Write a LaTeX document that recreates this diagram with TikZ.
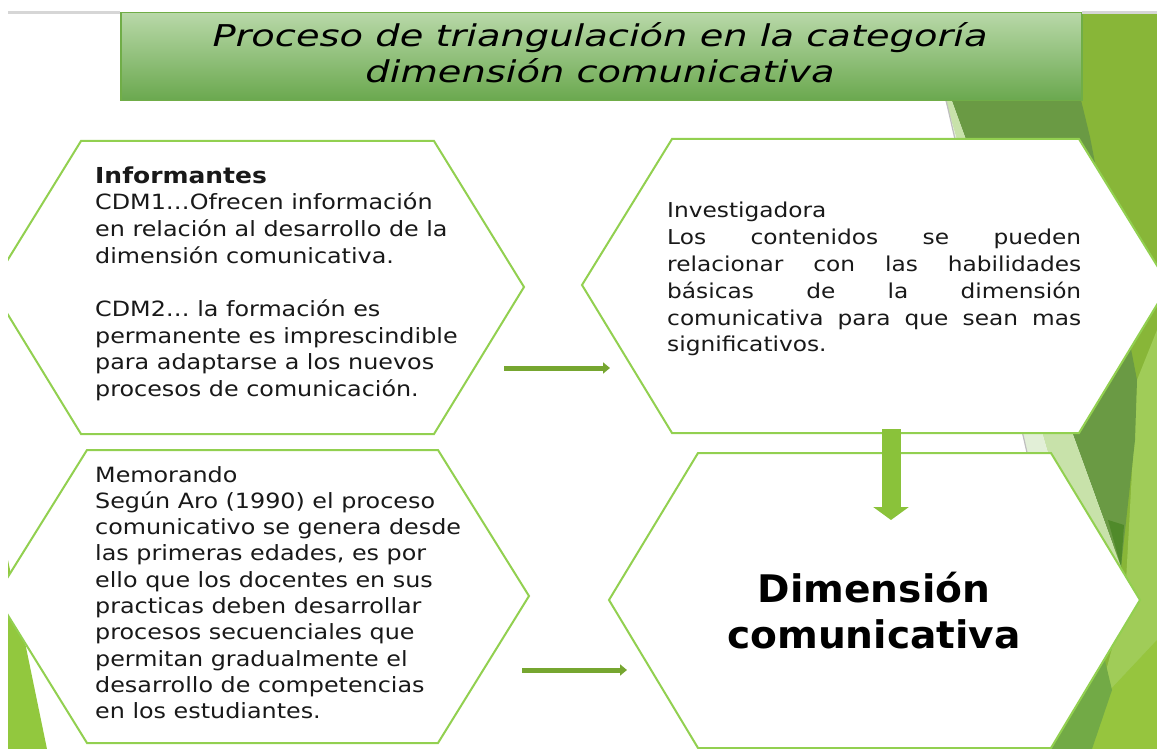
\documentclass[tikz,border=0pt]{standalone}
\usepackage{fontspec}
\setmainfont{DejaVu Sans}[FakeStretch=1.135]
\newfontfamily\titlefont{DejaVu Sans}[FakeStretch=1.28]
\newfontfamily\bigfont{DejaVu Sans}[FakeStretch=1.03]
\usetikzlibrary{arrows.meta}
\definecolor{hexline}{RGB}{146,208,80}
\definecolor{arrowgreen}{RGB}{118,166,48}
\definecolor{blockgreen}{RGB}{138,194,58}
\definecolor{titletop}{RGB}{184,216,168}
\definecolor{titlebot}{RGB}{106,168,78}
\definecolor{titleborder}{RGB}{112,173,71}
\definecolor{olivefacet}{RGB}{136,182,56}
\definecolor{darkfacet}{RGB}{106,154,68}
\definecolor{deepfacet}{RGB}{80,138,42}
\definecolor{palefacet}{RGB}{226,239,215}
\definecolor{lightfacet}{RGB}{200,226,170}
\definecolor{brightfacet}{RGB}{150,197,62}
\definecolor{softfacet}{RGB}{160,204,88}
\definecolor{midfacet}{RGB}{114,170,70}
\definecolor{cornerfacet}{RGB}{146,200,62}
\definecolor{textgray}{RGB}{25,25,25}
\definecolor{topline}{RGB}{214,214,214}
\definecolor{facetline}{RGB}{190,190,190}
\begin{document}
\begin{tikzpicture}[x=1pt,y=-1pt,
  hexagon/.style={fill=white, draw=hexline, line width=2pt, line join=miter},
  bodytext/.style={anchor=base west, inner sep=0pt, text=textgray},
  flowarrow/.style={draw=arrowgreen, line width=5pt, -{Triangle[length=7pt,width=11pt]}},
  downarrow/.style={draw=blockgreen, line width=19pt, -{Triangle[length=13pt,width=35pt]}},
  titlebox/.style={draw=titleborder, line width=1.5pt, top color=titletop, bottom color=titlebot,
     minimum width=961pt, minimum height=88pt, inner sep=0pt, anchor=north west}]
\useasboundingbox (0,0) rectangle (1157,749);
\fill[white] (0,0) rectangle (1157,749);
\begin{scope}
\clip (8,13) rectangle (1157,749);
% background facets
\fill[olivefacet] (1081,13) -- (1157,13) -- (1157,749) -- (1040,749) -- (1040,600) -- (1115,570) -- (1081,100) -- cycle;
\fill[softfacet] (1157,330) -- (1157,749) -- (1085,749) -- (1125,600) -- (1137,380) -- cycle;
\fill[brightfacet] (1157,640) -- (1157,749) -- (1088,749) -- (1110,690) -- cycle;
\fill[midfacet] (1100,640) -- (1112,690) -- (1092,749) -- (1045,749) -- cycle;
\fill[darkfacet] (920,13) -- (1081,13) -- (1081,100) -- (1090,137) -- (1137,380) -- (1135,440) -- (1121,567) -- cycle;
\fill[deepfacet] (1108,520) -- (1124,525) -- (1121,567) -- cycle;
\fill[lightfacet] (920,13) -- (1121,567) -- (1082,570) -- cycle;
\fill[palefacet] (920,13) -- (1082,570) -- (1054,570) -- (926,13) -- cycle;
\draw[facetline, line width=1.2pt] (926,13) -- (1054,570);
\fill[cornerfacet] (8,560) -- (47,749) -- (8,749) -- cycle;
% hexagons
\draw[hexagon] (-9,287) -- (81,141) -- (434,141) -- (524,287) -- (434,434) -- (81,434) -- cycle;
\draw[hexagon] (-4,596) -- (87,450) -- (438,450) -- (529,596) -- (438,743) -- (87,743) -- cycle;
\draw[hexagon] (582,285) -- (672,139) -- (1079,139) -- (1169,285) -- (1079,433) -- (672,433) -- cycle;
\draw[hexagon] (609,600) -- (698,453) -- (1051,453) -- (1140,600) -- (1051,748) -- (698,748) -- cycle;
% title
\node[titlebox] (title) at (120,12) {};
\end{scope}
\draw[topline, line width=3pt] (8,13) -- (120,13);
\draw[topline, line width=3pt] (1082,13) -- (1157,13);
% connectors
\coordinate (a1s) at (504,368); \coordinate (a1e) at (610,368);
\coordinate (a2s) at (522,670); \coordinate (a2e) at (627,670);
\coordinate (a3s) at (891,429); \coordinate (a3e) at (891,520);
\draw[flowarrow] (a1s) -- (a1e);
\draw[flowarrow] (a2s) -- (a2e);
\draw[downarrow] (a3s) -- (a3e);
% texts
\node[anchor=base, inner sep=0pt] (titletext) at (600,47) {\parbox[t]{950pt}{\centering\titlefont\itshape\fontsize{30}{36}\selectfont Proceso de triangulación en la categoría\\dimensión comunicativa}};
\node[bodytext] (t1) at (95,183) {\parbox[t]{430pt}{\raggedright\fontsize{21}{26.7}\selectfont
{\fontsize{22}{26.7}\selectfont\bfseries Informantes}\\
CDM1…Ofrecen información\\
en relación al desarrollo de la\\
dimensión comunicativa.\\[26.7pt]
CDM2… la formación es\\
permanente es imprescindible\\
para adaptarse a los nuevos\\
procesos de comunicación.}};
\node[bodytext] (t2) at (95,482) {\parbox[t]{430pt}{\raggedright\fontsize{21}{26.3}\selectfont
Memorando\\
Según Aro (1990) el proceso\\
comunicativo se genera desde\\
las primeras edades, es por\\
ello que los docentes en sus\\
practicas deben desarrollar\\
procesos secuenciales que\\
permitan gradualmente el\\
desarrollo de competencias\\
en los estudiantes.}};
\node[bodytext] (t3) at (667,218) {\parbox[t]{414pt}{\fontsize{20.5}{26.8}\selectfont
Investigadora\hfill\null\\
\makebox[\linewidth][s]{Los contenidos se pueden}\\
\makebox[\linewidth][s]{relacionar con las habilidades}\\
\makebox[\linewidth][s]{básicas de la dimensión}\\
\makebox[\linewidth][s]{comunicativa para que sean mas}\\
significativos.\hfill\null}};
\node[anchor=base, inner sep=0pt] (t4) at (874,602) {\parbox[t]{340pt}{\centering\bigfont\bfseries\fontsize{38}{46}\selectfont Dimensión\\comunicativa}};
\end{tikzpicture}
\end{document}
